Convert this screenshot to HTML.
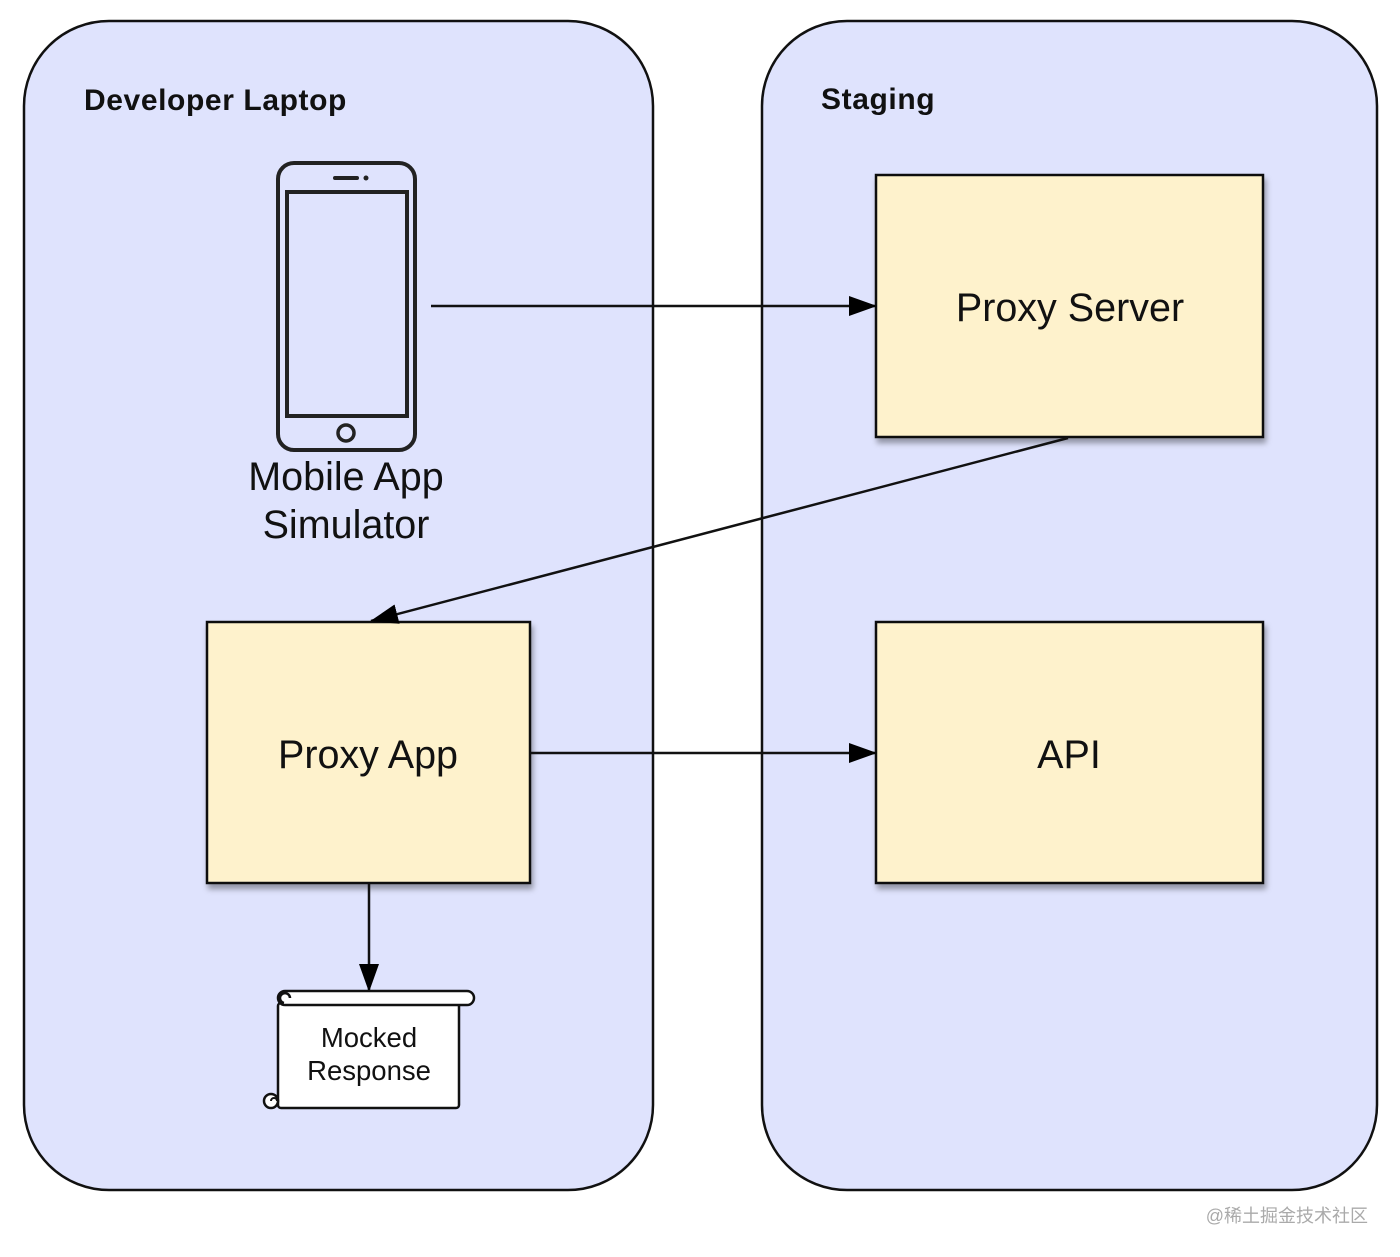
<!DOCTYPE html>
<html><head><meta charset="utf-8"><style>
html,body{margin:0;padding:0;background:#fff;width:1400px;height:1257px;overflow:hidden}
svg{display:block}
text{font-family:"Liberation Sans",Arial,sans-serif;fill:#111}
</style></head><body>
<svg width="1400" height="1257" viewBox="0 0 1400 1257" xmlns="http://www.w3.org/2000/svg">
<defs>
<marker id="ah2" markerWidth="28" markerHeight="20" refX="27" refY="10" orient="auto" markerUnits="userSpaceOnUse">
<path d="M0,0 L28,10 L0,20 Z" fill="#000"/>
</marker>
<filter id="sh" x="-10%" y="-10%" width="130%" height="130%">
<feDropShadow dx="2" dy="5" stdDeviation="3" flood-color="#000" flood-opacity="0.35"/>
</filter>
</defs>
<rect x="24" y="21" width="629" height="1169" rx="85" ry="85" fill="#dfe3fd" stroke="#111" stroke-width="2.5"/>
<rect x="762" y="21" width="615" height="1169" rx="85" ry="85" fill="#dfe3fd" stroke="#111" stroke-width="2.5"/>
<text x="84" y="110" font-size="30" font-weight="bold" letter-spacing="0.6">Developer Laptop</text>
<text x="821" y="109" font-size="30" font-weight="bold" letter-spacing="0.6">Staging</text>

<rect x="876" y="175" width="387" height="262" fill="#fef2cc" stroke="#111" stroke-width="2.5" filter="url(#sh)"/>
<rect x="207" y="622" width="323" height="261" fill="#fef2cc" stroke="#111" stroke-width="2.5" filter="url(#sh)"/>
<rect x="876" y="622" width="387" height="261" fill="#fef2cc" stroke="#111" stroke-width="2.5" filter="url(#sh)"/>
<text x="1070" y="321" font-size="39.5" text-anchor="middle">Proxy Server</text>
<text x="368" y="768" font-size="39.5" text-anchor="middle">Proxy App</text>
<text x="1069" y="768" font-size="39.5" text-anchor="middle">API</text>

<rect x="278" y="163" width="137" height="287" rx="16" fill="none" stroke="#222" stroke-width="4"/>
<rect x="287" y="192" width="120" height="224" fill="none" stroke="#222" stroke-width="4"/>
<line x1="335" y1="178" x2="357" y2="178" stroke="#222" stroke-width="4" stroke-linecap="round"/>
<circle cx="366" cy="178" r="2.5" fill="#222"/>
<circle cx="346" cy="433" r="8" fill="none" stroke="#222" stroke-width="3.5"/>
<text x="346" y="490" font-size="39.5" text-anchor="middle">Mobile App</text>
<text x="346" y="538" font-size="39.5" text-anchor="middle">Simulator</text>

<line x1="431" y1="306" x2="876" y2="306" stroke="#111" stroke-width="2.5" marker-end="url(#ah2)"/>
<line x1="1068" y1="438" x2="371" y2="621" stroke="#111" stroke-width="2.5" marker-end="url(#ah2)"/>
<line x1="531" y1="753" x2="876" y2="753" stroke="#111" stroke-width="2.5" marker-end="url(#ah2)"/>
<line x1="369" y1="884" x2="369" y2="991" stroke="#111" stroke-width="2.5" marker-end="url(#ah2)"/>

<rect x="278" y="1003" width="181" height="105" rx="3" fill="#fff" stroke="#111" stroke-width="2.5"/>
<rect x="278" y="991" width="196" height="14" rx="7" fill="#fff" stroke="#111" stroke-width="2.5"/>
<path d="M290,998 a5,5 0 1 0 -6,5" fill="none" stroke="#111" stroke-width="2.5"/>
<circle cx="271" cy="1101" r="7" fill="#fff" stroke="#111" stroke-width="2.5"/>
<path d="M271,1101 a3,3 0 0 1 6,0" fill="none" stroke="#111" stroke-width="2"/>
<text x="369" y="1047" font-size="27.5" text-anchor="middle">Mocked</text>
<text x="369" y="1080" font-size="27.5" text-anchor="middle">Response</text>

<text x="1368" y="1222" font-size="18" text-anchor="end" style="fill:#aaa;font-family:'Liberation Sans','Noto Sans CJK SC',sans-serif">@稀土掘金技术社区</text>
</svg>
</body></html>
